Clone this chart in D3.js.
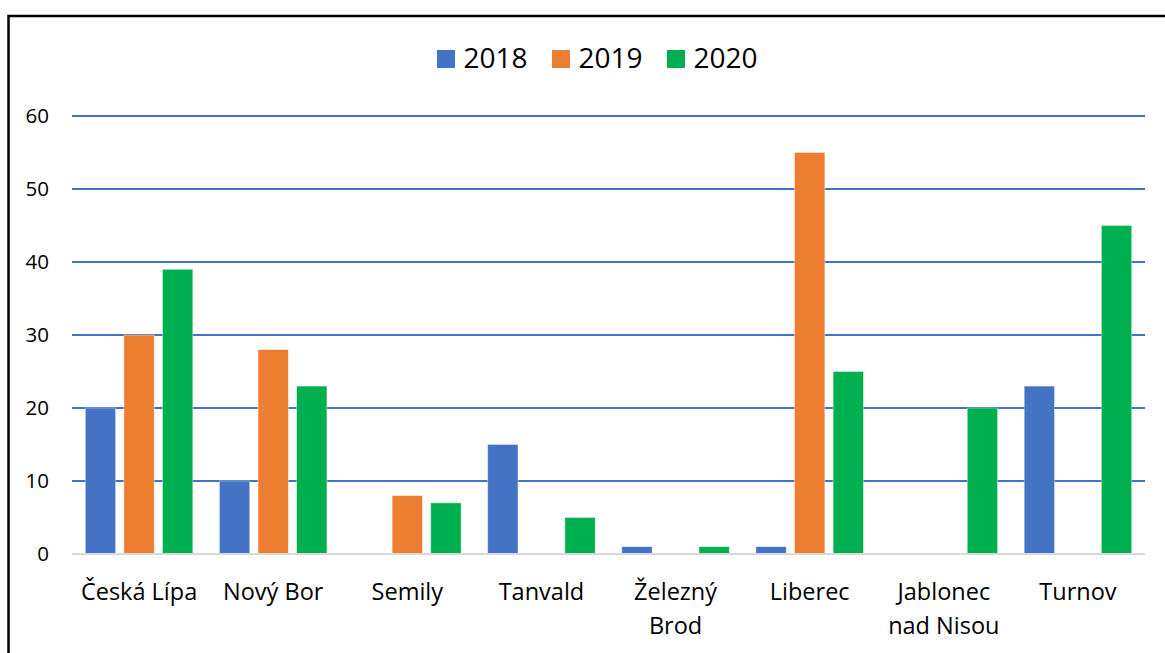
<!DOCTYPE html>
<html>
<head>
<meta charset="utf-8">
<script src="https://cdn.jsdelivr.net/npm/d3@7"></script>
<style>
  html, body { margin: 0; padding: 0; background: #fff; }
  svg { display: block; }
  text { font-family: "Open Sans", sans-serif; fill: #000; }
</style>
</head>
<body>
<svg id="chart" width="1165" height="653"></svg>
<script>
const categories = [["Česká Lípa"], ["Nový Bor"], ["Semily"], ["Tanvald"], ["Železný", "Brod"], ["Liberec"], ["Jablonec", "nad Nisou"], ["Turnov"]];
const seriesNames = ["2018", "2019", "2020"];
const values2018 = [20, 10, 0, 15, 1, 1, 0, 23];
const values2019 = [30, 28, 8, 0, 0, 55, 0, 0];
const values2020 = [39, 23, 7, 5, 1, 25, 20, 45];
const yTicks = [0, 10, 20, 30, 40, 50, 60];
const colors = ["#4472C4", "#ED7D31", "#00B050"];

const seriesValues = [values2018, values2019, values2020];
const svg = d3.select("#chart");
const plot = { left: 72, right: 1145, top: 116, bottom: 554 };

// outer border
svg.append("rect")
  .attr("x", 8.5).attr("y", 16)
  .attr("width", 1300).attr("height", 800)
  .attr("fill", "none").attr("stroke", "#000").attr("stroke-width", 2.5);

const catIdx = categories.map((c, i) => i);
const x0 = d3.scaleBand().domain(catIdx).range([plot.left, plot.right]).padding(0);
const x1 = d3.scaleBand().domain(seriesNames).range([0, x0.bandwidth()])
  .paddingInner(0.215).paddingOuter(0.345);
const y = d3.scaleLinear().domain([0, 60]).range([plot.bottom, plot.top]);

// gridlines
svg.append("g").selectAll("line")
  .data(yTicks.filter(t => t > 0))
  .join("line")
  .attr("x1", plot.left).attr("x2", plot.right)
  .attr("y1", d => y(d)).attr("y2", d => y(d))
  .attr("stroke", "#4472C4").attr("stroke-width", 2);

// y tick labels
svg.append("g").selectAll("text")
  .data(yTicks)
  .join("text")
  .attr("x", 49).attr("y", d => y(d))
  .attr("dy", "0.36em")
  .attr("text-anchor", "end")
  .attr("font-size", 20.5)
  .text(d => d);

// bars
const groups = svg.append("g").selectAll("g")
  .data(catIdx)
  .join("g")
  .attr("transform", i => `translate(${x0(i)},0)`);
groups.selectAll("rect")
  .data(i => seriesNames.map((s, k) => ({ s, k, v: seriesValues[k][i] })).filter(d => d.v > 0))
  .join("rect")
  .attr("x", d => x1(d.s))
  .attr("width", x1.bandwidth())
  .attr("y", d => y(d.v))
  .attr("height", d => y(0) - y(d.v))
  .attr("fill", d => colors[d.k])
  .attr("stroke", "#fff").attr("stroke-opacity", 0.5).attr("stroke-width", 0.75);

// baseline
svg.append("line")
  .attr("x1", plot.left).attr("x2", plot.right)
  .attr("y1", y(0)).attr("y2", y(0))
  .attr("stroke", "#D9D9D9").attr("stroke-width", 2);

// x labels
const xl = svg.append("g").selectAll("text")
  .data(catIdx)
  .join("text")
  .attr("x", i => x0(i) + x0.bandwidth() / 2)
  .attr("y", 600)
  .attr("text-anchor", "middle")
  .attr("font-size", 23.5);
xl.selectAll("tspan")
  .data(i => categories[i])
  .join("tspan")
  .attr("x", function() { return d3.select(this.parentNode).attr("x"); })
  .attr("dy", (d, j) => j === 0 ? 0 : 33.5)
  .text(d => d);

// legend
const legendX = [437, 552, 667];
const lg = svg.append("g").selectAll("g")
  .data(seriesNames)
  .join("g")
  .attr("transform", (d, k) => `translate(${legendX[k]},0)`);
lg.append("rect")
  .attr("x", 0).attr("y", 50).attr("width", 18).attr("height", 18)
  .attr("fill", (d, k) => colors[k]);
lg.append("text")
  .attr("x", 26.5).attr("y", 68)
  .attr("font-size", 28)
  .text(d => d);
</script>
</body>
</html>
